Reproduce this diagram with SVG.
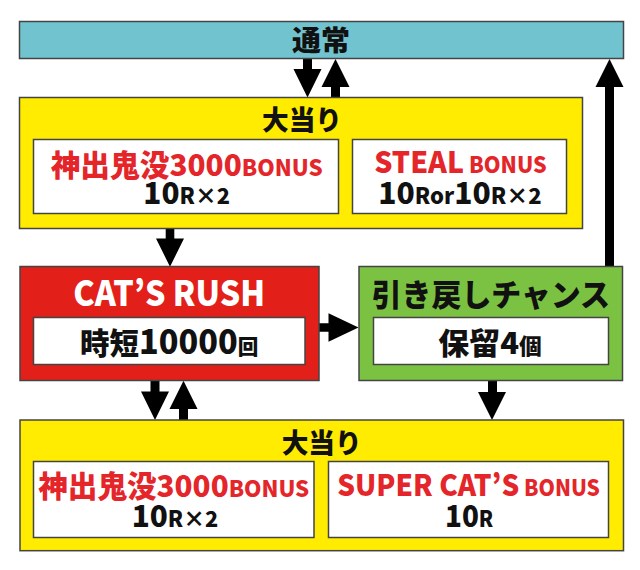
<svg xmlns="http://www.w3.org/2000/svg" width="640" height="570" viewBox="0 0 640 570">
<style>
.box{stroke:#444;stroke-width:1.5}
.inner{fill:#fff;stroke:#444;stroke-width:1.5}
.t{font-family:"Noto Sans CJK JP","Liberation Sans",sans-serif;font-weight:900;fill:#111}
.r{fill:#E4262A}
.w{fill:#fff}
.arrow{fill:#000}
</style>
<rect width="640" height="570" fill="#fff"/>
<g id="connectors">
<polygon class="arrow" points="303,59 312,59 312,69 321.5,69 307.5,97.5 293.5,69 303,69"/>
<polygon class="arrow" points="335.5,59 349.5,87 340,87 340,98 331,98 331,87 321.5,87"/>
<polygon class="arrow" points="609.5,59 623.5,87 614,87 614,267 605,267 605,87 595.5,87"/>
<polygon class="arrow" points="165.7,228 174.3,228 174.3,238.5 184,238.5 170,266.7 156,238.5 165.7,238.5"/>
<polygon class="arrow" points="319,323.3 328.5,323.3 328.5,313.3 358.5,327.5 328.5,341.7 328.5,331.7 319,331.7"/>
<polygon class="arrow" points="150.5,380 159.5,380 159.5,391.5 169,391.5 155,420 141,391.5 150.5,391.5"/>
<polygon class="arrow" points="183.5,380.7 197.5,409 188,409 188,420.5 179,420.5 179,409 169.5,409"/>
<polygon class="arrow" points="488,380 497,380 497,392 506,392 492,420 478,392 488,392"/>
</g>
<g id="normal">
<rect class="box" x="19.5" y="21.5" width="604" height="37" fill="#71C3D0"/>
<text class="t" x="292" y="51" font-size="28" textLength="58" lengthAdjust="spacingAndGlyphs">通常</text>
</g>
<g id="jackpot1">
<rect class="box" x="19.5" y="97.5" width="563" height="131" fill="#FFEC00"/>
<text class="t" x="262" y="130" font-size="27" textLength="80" lengthAdjust="spacingAndGlyphs">大当り</text>
<rect class="inner" x="33.5" y="139.5" width="305" height="74"/>
<text class="t r" x="50.7" y="175.7" font-size="30" textLength="272" lengthAdjust="spacingAndGlyphs">神出鬼没3000<tspan font-size="22.5">BONUS</tspan></text>
<text class="t" x="143.3" y="204" font-size="30" textLength="86.7" lengthAdjust="spacingAndGlyphs">10<tspan font-size="22">R×2</tspan></text>
<rect class="inner" x="352.5" y="139.5" width="214" height="74"/>
<text class="t r" x="374.3" y="173.3" font-size="30" textLength="172.4" lengthAdjust="spacingAndGlyphs">STEAL<tspan font-size="22.5"> BONUS</tspan></text>
<text class="t" x="378.3" y="204" font-size="30" textLength="163.4" lengthAdjust="spacingAndGlyphs">10<tspan font-size="22">Ror</tspan>10<tspan font-size="22">R×2</tspan></text>
</g>
<g id="catsrush">
<rect class="box" x="20" y="266.5" width="299" height="114" fill="#E31F1A"/>
<text class="t w" x="73.3" y="305.7" font-size="35" textLength="191.7" lengthAdjust="spacingAndGlyphs">CAT’S RUSH</text>
<rect class="inner" x="33.5" y="317.5" width="271.5" height="47"/>
<text class="t" x="80" y="354.3" font-size="30" textLength="178.3" lengthAdjust="spacingAndGlyphs">時短<tspan font-size="33">10000</tspan><tspan font-size="21">回</tspan></text>
</g>
<g id="hikimodoshi">
<rect class="box" x="359" y="266.5" width="263.5" height="114" fill="#7CC242"/>
<text class="t" x="371.7" y="306" font-size="31" textLength="238.3" lengthAdjust="spacingAndGlyphs">引き戻しチャンス</text>
<rect class="inner" x="373.5" y="317.5" width="235" height="47"/>
<text class="t" x="438.3" y="354" font-size="30" textLength="103.4" lengthAdjust="spacingAndGlyphs">保留4<tspan font-size="22">個</tspan></text>
</g>
<g id="jackpot2">
<rect class="box" x="20" y="420" width="603.5" height="130.7" fill="#FFEC00"/>
<text class="t" x="281.7" y="453" font-size="27" textLength="80" lengthAdjust="spacingAndGlyphs">大当り</text>
<rect class="inner" x="33.5" y="461.5" width="280.5" height="76"/>
<text class="t r" x="38.3" y="496.5" font-size="30" textLength="271" lengthAdjust="spacingAndGlyphs">神出鬼没3000<tspan font-size="22.5">BONUS</tspan></text>
<text class="t" x="131.7" y="526.7" font-size="30" textLength="86.6" lengthAdjust="spacingAndGlyphs">10<tspan font-size="22">R×2</tspan></text>
<rect class="inner" x="328.5" y="461.5" width="280" height="76"/>
<text class="t r" x="337.3" y="496" font-size="30" textLength="262.7" lengthAdjust="spacingAndGlyphs">SUPER CAT’S<tspan font-size="22.5"> BONUS</tspan></text>
<text class="t" x="445" y="527" font-size="30" textLength="48.3" lengthAdjust="spacingAndGlyphs">10<tspan font-size="22">R</tspan></text>
</g>
</svg>
